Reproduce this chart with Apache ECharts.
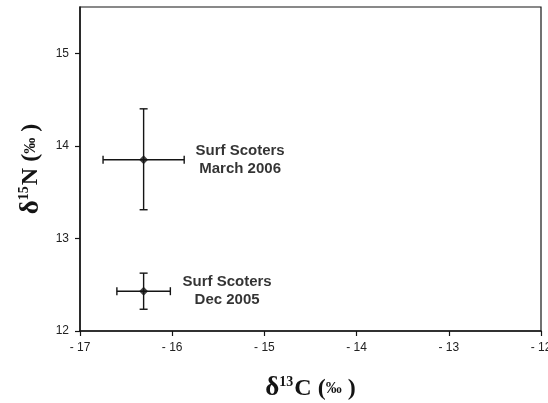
<!DOCTYPE html>
<html>
<head>
<meta charset="utf-8">
<style>
  html, body { margin: 0; padding: 0; background: #fff; }
  #chart { width: 548px; height: 403px; }
</style>
<script src="https://cdn.jsdelivr.net/npm/echarts@6/dist/echarts.min.js"></script>
</head>
<body>
<div id="chart"></div>
<script>
// group labels and values
const groups = ["Surf Scoters\nMarch 2006", "Surf Scoters\nDec 2005"];
const meanC = [-16.31, -16.31];
const meanN = [13.85, 12.43];
const cLow = [-16.75, -16.60];
const cHigh = [-15.87, -16.02];
const nLow = [13.31, 12.235];
const nHigh = [14.40, 12.625];
const labelOffset = [92, 79];

const xTicks = [-17, -16, -15, -14, -13, -12];
const yTicks = [12, 13, 14, 15];

const ink = "#141414";

function fmtX(v) {
  return v < 0 ? "- " + Math.abs(v) : String(v);
}

const errData = groups.map((g, i) => [meanC[i], meanN[i], cLow[i], cHigh[i], nLow[i], nHigh[i]]);

function renderErr(params, api) {
  const c = api.coord([api.value(0), api.value(1)]);
  const l = api.coord([api.value(2), api.value(1)]);
  const r = api.coord([api.value(3), api.value(1)]);
  const b = api.coord([api.value(0), api.value(4)]);
  const t = api.coord([api.value(0), api.value(5)]);
  const cap = 4;
  const style = { stroke: ink, lineWidth: 1.4 };
  const line = (x1, y1, x2, y2) => ({ type: "line", shape: { x1, y1, x2, y2 }, style });
  return {
    type: "group",
    children: [
      line(l[0], c[1], r[0], c[1]),
      line(l[0], c[1] - cap, l[0], c[1] + cap),
      line(r[0], c[1] - cap, r[0], c[1] + cap),
      line(c[0], t[1], c[0], b[1]),
      line(c[0] - cap, t[1], c[0] + cap, t[1]),
      line(c[0] - cap, b[1], c[0] + cap, b[1]),
    ],
  };
}

const chart = echarts.init(document.getElementById("chart"), null, { renderer: "canvas" });

const titleRich = {
  d: { fontFamily: "Liberation Serif", fontWeight: "bold", fontSize: 27, color: ink },
  s: { fontFamily: "Liberation Serif", fontWeight: "bold", fontSize: 14, color: ink, verticalAlign: "top", padding: [0, 1, 12, 0] },
  c: { fontFamily: "Liberation Serif", fontWeight: "bold", fontSize: 24, color: ink },
  p: { fontFamily: "Liberation Serif", fontWeight: "bold", fontSize: 16, color: ink },
};

chart.setOption({
  animation: false,
  backgroundColor: "#fff",
  grid: {
    left: 80, right: 7, top: 7, bottom: 72,
    outerBoundsMode: "none",
    containLabel: false,
    show: true, borderColor: ink, borderWidth: 1.2,
  },
  xAxis: {
    type: "value",
    min: -17, max: -12, interval: 1,
    name: "{d|δ}{s|13}{c|C (}{p|‰}{c| )}",
    nameLocation: "middle",
    nameGap: 44,
    nameTextStyle: { rich: titleRich },
    axisLine: { show: true, onZero: false, lineStyle: { color: ink, width: 1.5 } },
    axisTick: { show: true, length: 5, lineStyle: { color: ink, width: 1.2 } },
    axisLabel: {
      formatter: fmtX, color: "#222", fontFamily: "Liberation Sans", fontSize: 12, margin: 11,
    },
    splitLine: { show: false },
  },
  yAxis: {
    type: "value",
    min: 12, max: 15.5, interval: 1,
    name: "{d|δ}{s|15}{c|N (}{p|‰}{c| )}",
    nameLocation: "middle",
    nameGap: 30,
    nameTextStyle: { rich: titleRich },
    axisLine: { show: true, onZero: false, lineStyle: { color: ink, width: 1.5 } },
    axisTick: { show: true, length: 5, lineStyle: { color: ink, width: 1.2 } },
    axisLabel: {
      color: "#222", fontFamily: "Liberation Sans", fontSize: 12, margin: 11,
      showMaxLabel: false,
    },
    splitLine: { show: false },
  },
  series: [
    {
      type: "custom",
      renderItem: renderErr,
      data: errData,
      encode: { x: [0, 2, 3], y: [1, 4, 5] },
      silent: true,
      z: 2,
    },
    {
      type: "scatter",
      symbol: "diamond",
      symbolSize: 9,
      itemStyle: { color: ink },
      z: 3,
      data: groups.map((g, i) => ({
        value: [meanC[i], meanN[i]],
        name: g,
        label: {
          show: true,
          position: "right",
          distance: labelOffset[i],
          align: "center",
          formatter: "{b}",
          fontFamily: "Liberation Sans",
          fontWeight: "bold",
          fontSize: 15,
          lineHeight: 18,
          color: "#000",
          textBorderWidth: 0,
        },
      })),
    },
  ],
});
</script>
</body>
</html>
